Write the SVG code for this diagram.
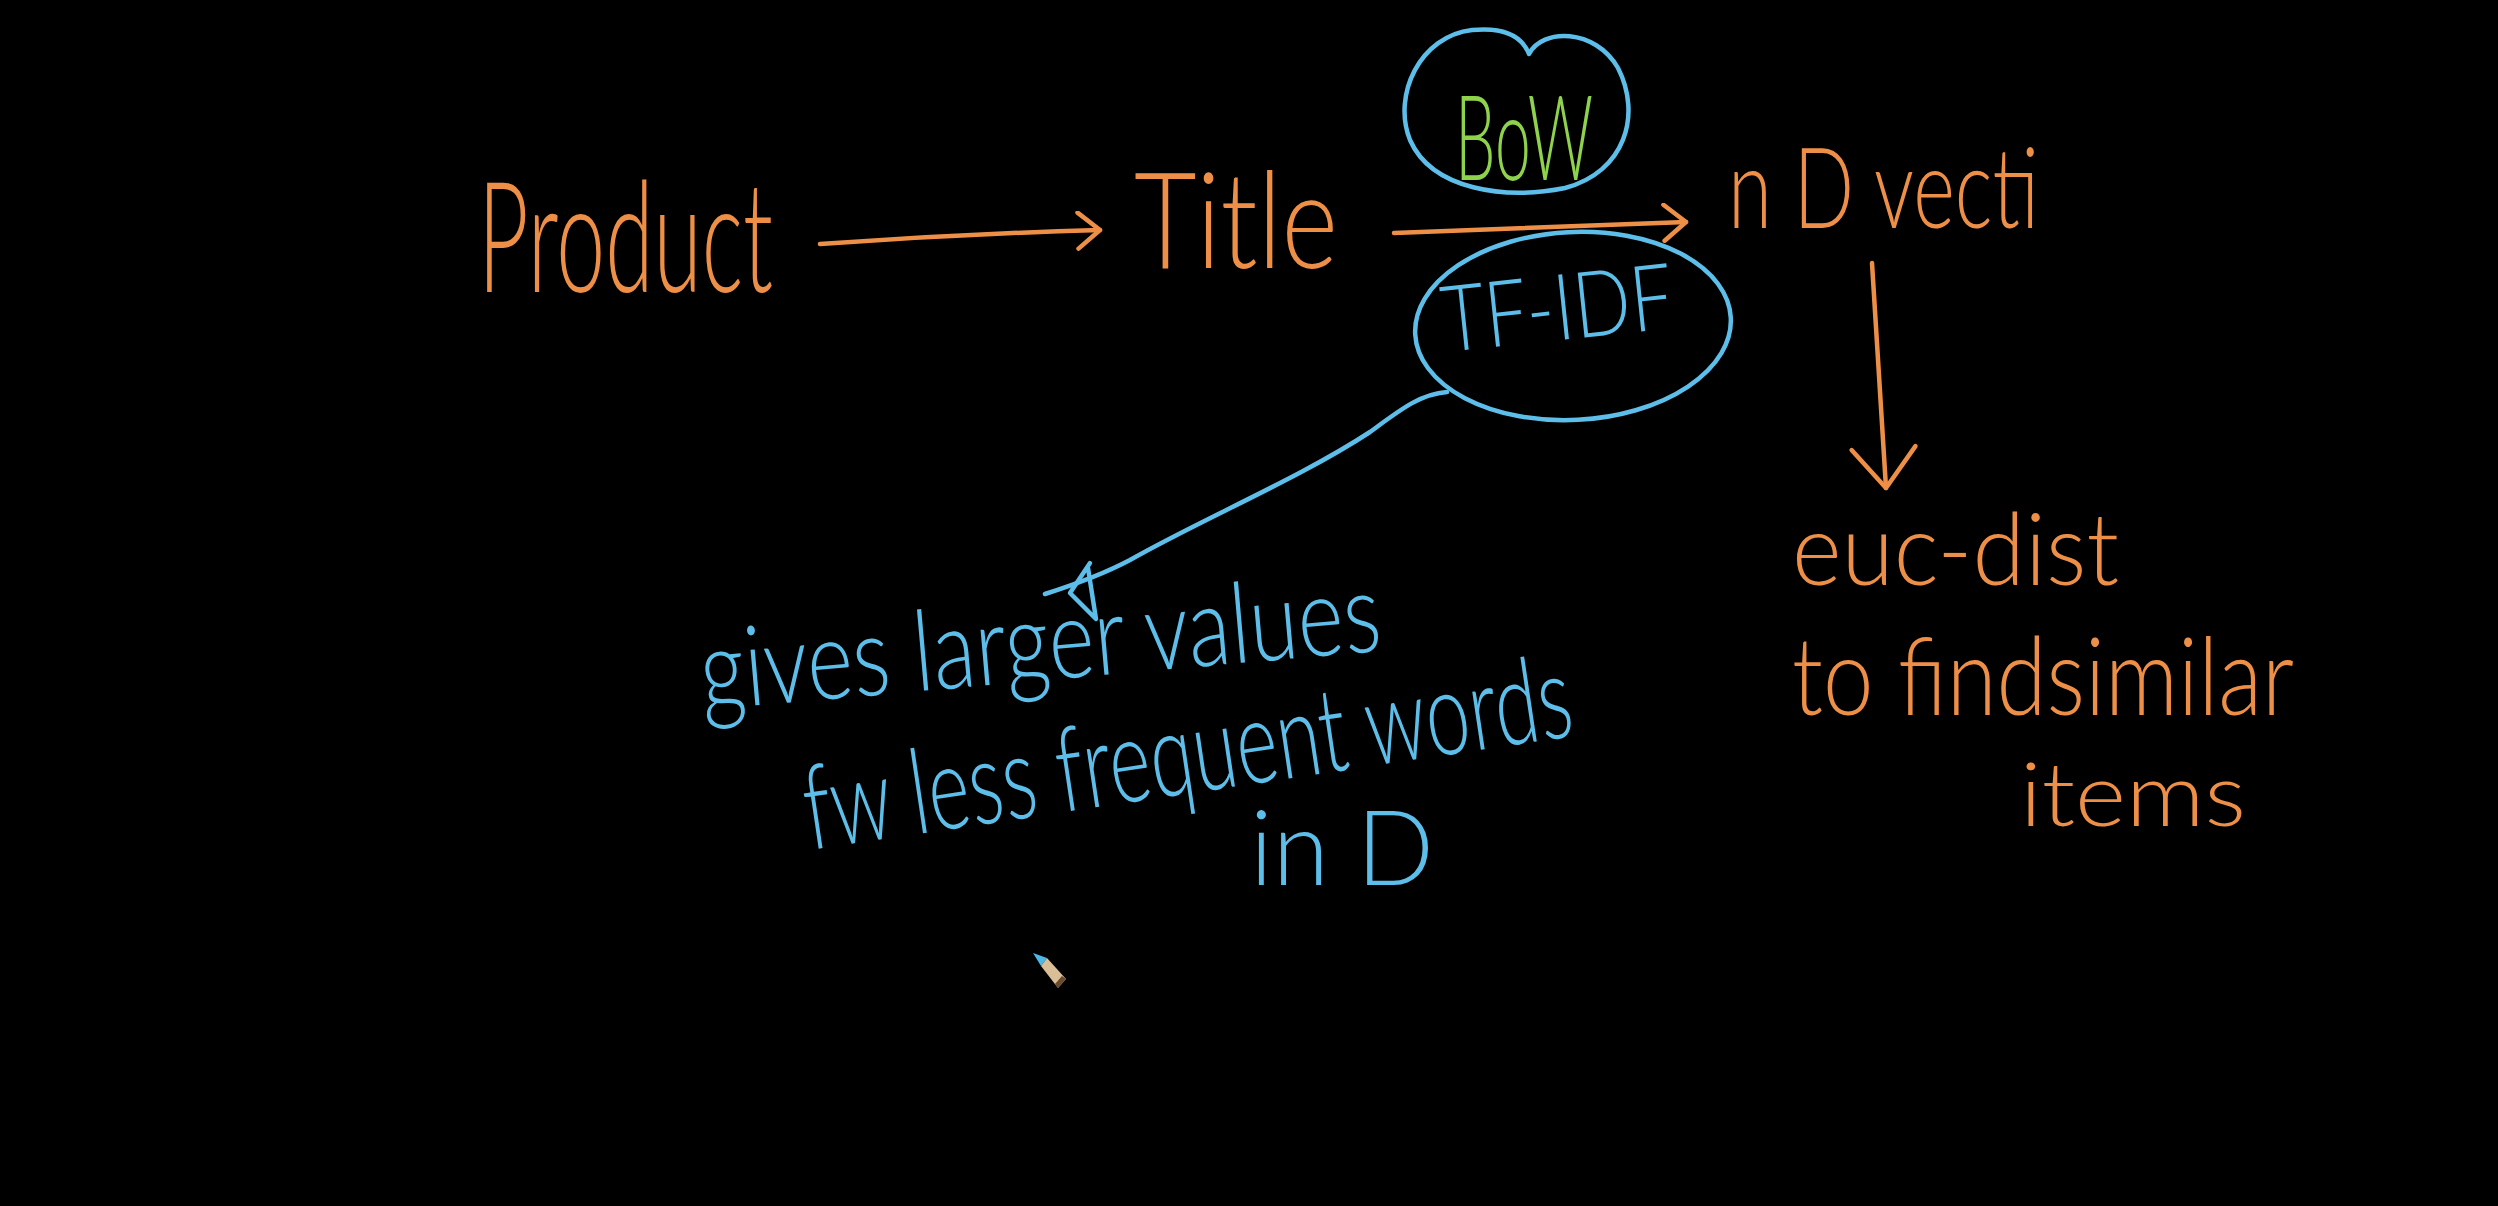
<svg xmlns="http://www.w3.org/2000/svg" width="2498" height="1206" viewBox="0 0 2498 1206">
<style>
text{font-family:"Lato","Liberation Sans",sans-serif;font-weight:300;}
.or{fill:#EE8F48;}
.bl{fill:#5DBEEA;}
.gr{fill:#8FD24C;}
.ol{fill:none;stroke:#EE8F48;stroke-width:4.5;stroke-linecap:round;stroke-linejoin:round;}
.blk{fill:none;stroke:#5DBEEA;stroke-width:4.5;stroke-linecap:round;stroke-linejoin:round;}
</style>
<defs>
<marker id="chevO" viewBox="0 0 30 40" refX="26" refY="20" markerWidth="30" markerHeight="40" markerUnits="userSpaceOnUse" orient="auto">
<path d="M4,2 L26,20 L4,38" fill="none" stroke="#EE8F48" stroke-width="4.5" stroke-linecap="round" stroke-linejoin="round"/>
</marker>
<marker id="chevD" viewBox="0 0 50 70" refX="44" refY="35" markerWidth="50" markerHeight="70" markerUnits="userSpaceOnUse" orient="auto">
<path d="M4,3 L44,35 L4,67" fill="none" stroke="#EE8F48" stroke-width="4.5" stroke-linecap="round" stroke-linejoin="round"/>
</marker>
</defs>
<rect x="0" y="0" width="2498" height="1206" fill="#000000"/>

<g id="connectors">
<path class="ol" d="M820,244 Q960,234 1100,230" marker-end="url(#chevO)"/>
<path class="ol" d="M1394,233 Q1540,227 1686,222" marker-end="url(#chevO)"/>
<path class="ol" d="M1872,263 L1886,488" marker-end="url(#chevD)"/>
<path class="blk" d="M1447,392 C1420,394 1400,410 1370,432 C1300,478 1200,520 1130,560 C1100,576 1070,586 1045,594"/>
<path class="blk" d="M1090,563 L1070,593 L1096,619 L1088,568"/>
</g>

<g id="node-product">
<text class="or" x="478" y="292" font-size="155" textLength="295" lengthAdjust="spacingAndGlyphs">Product</text>
</g>

<g id="node-title">
<text class="or" x="1134" y="268" font-size="135" textLength="204" lengthAdjust="spacingAndGlyphs">Title</text>
</g>

<g id="node-bow">
<path class="blk" d="M1529,54 C1542,28 1595,28 1618,68 C1642,115 1625,172 1565,188 C1505,200 1432,190 1410,140 C1392,95 1420,36 1472,30 C1503,27 1522,36 1529,54 Z"/>
<text class="gr" x="1455" y="180" font-size="118" textLength="138" lengthAdjust="spacingAndGlyphs">BoW</text>
</g>

<g id="node-tfidf">
<ellipse class="blk" cx="1573" cy="326" rx="158" ry="94" transform="rotate(-3 1573 326)"/>
<text class="bl" x="1445" y="352" font-size="92" textLength="232" lengthAdjust="spacingAndGlyphs" transform="rotate(-6 1445 352)">TF-IDF</text>
</g>

<g id="node-ndvec">
<text class="or" x="1728" y="228" font-size="112" textLength="311" lengthAdjust="spacingAndGlyphs">n D vecti</text>
</g>

<g id="node-euc">
<text class="or" x="1792" y="585" font-size="100" textLength="327" lengthAdjust="spacingAndGlyphs">euc-dist</text>
<text class="or" x="1792" y="715" font-size="108" textLength="502" lengthAdjust="spacingAndGlyphs">to findsimilar</text>
<text class="or" x="2020" y="826" font-size="88" textLength="226" lengthAdjust="spacingAndGlyphs">items</text>
</g>

<g id="node-note">
<text class="bl" x="703" y="710" font-size="112" textLength="683" lengthAdjust="spacingAndGlyphs" transform="rotate(-5 703 710)">gives larger values</text>
<text class="bl" x="810" y="850" font-size="118" textLength="775" lengthAdjust="spacingAndGlyphs" transform="rotate(-8.5 810 850)">fw less frequent words</text>
<text class="bl" x="1250" y="885" font-size="105" textLength="184" lengthAdjust="spacingAndGlyphs">in D</text>
</g>

<g id="pencil">
<polygon points="1033,953 1047,958 1041,966" fill="#4FB6E6"/>
<polygon points="1047,958 1041,966 1058,988 1066,979" fill="#D9BE96"/>
<polygon points="1055,984 1058,988 1066,979 1062,976" fill="#6B4A2E"/>
</g>
</svg>
